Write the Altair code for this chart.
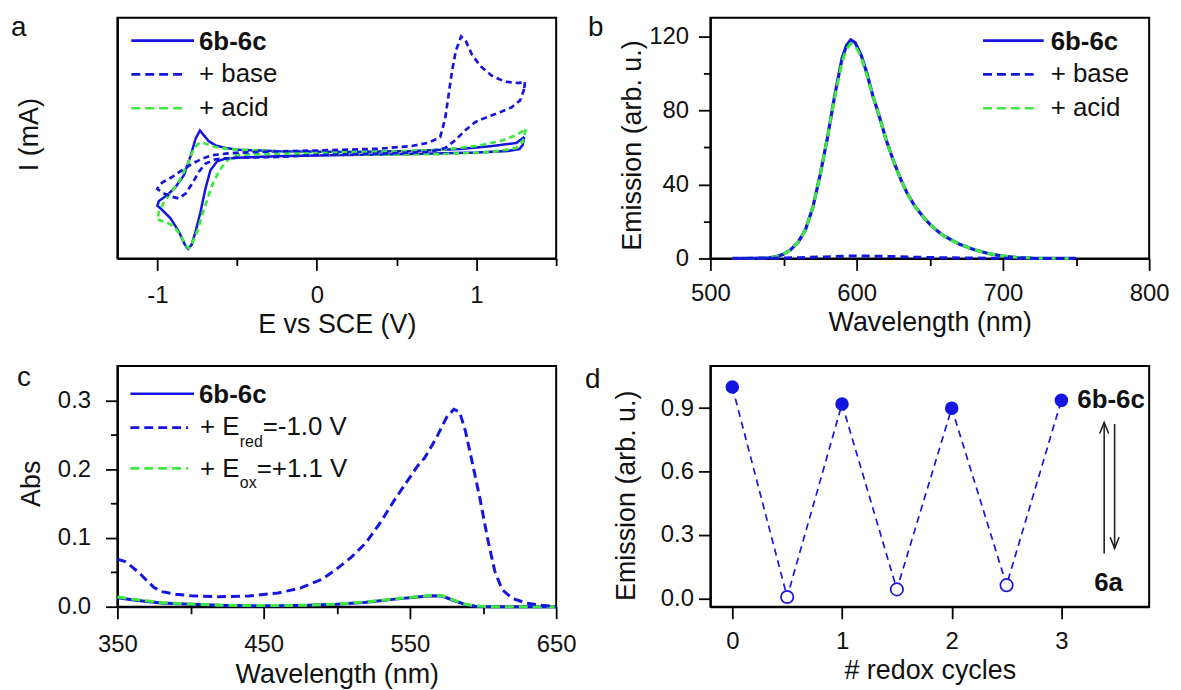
import altair as alt
import pandas as pd

FONT = "Liberation Sans"
BLUE = "#1515e0"
GREEN = "#3fe83f"
INK = "#111111"
W, H = 441, 242

# ---------------- panel a : cyclic voltammograms (E / V, I arbitrary) ----------------
cv_solid_E = [1.30, 1.29, 1.27, 1.20, 1.00, 0.60, 0.20, -0.20, -0.49, -0.573, -0.625, -0.667, -0.698,
              -0.729, -0.760, -0.785, -0.806, -0.827, -0.865, -0.917, -0.969, -1.00, -0.99, -0.9375,
              -0.885, -0.833, -0.79, -0.76, -0.733, -0.708, -0.677, -0.635, -0.573, -0.49, -0.24, 0.20,
              0.60, 0.90, 1.10, 1.25, 1.30]
cv_solid_I = [0.17, 0.09, 0.05, 0.03, 0.015, 0.0, -0.01, -0.02, -0.037, -0.047, -0.073, -0.163, -0.347,
              -0.58, -0.78, -0.913, -0.953, -0.913, -0.78, -0.647, -0.563, -0.52, -0.473, -0.413,
              -0.33, -0.213, -0.013, 0.153, 0.237, 0.187, 0.127, 0.087, 0.06, 0.043, 0.027, 0.02,
              0.03, 0.05, 0.08, 0.11, 0.17]

cv_acid_E = [1.31, 1.29, 1.25, 1.10, 0.80, 0.40, 0.0, -0.24, -0.49, -0.531, -0.573, -0.615, -0.656,
             -0.6875, -0.719, -0.75, -0.781, -0.802, -0.823, -0.854, -0.896, -0.9375, -0.99, -1.0,
             -0.99, -0.96, -0.927, -0.865, -0.8125, -0.771, -0.733, -0.698, -0.635, -0.552, -0.24,
             0.2, 0.5, 0.8, 1.0, 1.15, 1.25, 1.31]
cv_acid_I = [0.25, 0.12, 0.06, 0.02, 0.0, -0.005, 0.0, 0.003, -0.007, -0.03, -0.08, -0.18, -0.313,
             -0.463, -0.613, -0.78, -0.897, -0.947, -0.913, -0.813, -0.73, -0.69, -0.663, -0.663,
             -0.58, -0.49, -0.413, -0.28, -0.113, 0.053, 0.12, 0.103, 0.07, 0.047, 0.027,
             0.02, 0.025, 0.045, 0.08, 0.13, 0.19, 0.25]

cv_base_E = [1.30, 1.273, 1.221, 1.1375, 1.054, 0.992, 0.929, 0.867, 0.804, 0.70, 0.3875, 0.0, -0.24,
             -0.51, -0.635, -0.698, -0.74, -0.781, -0.823, -0.865, -0.906, -0.958, -1.0,
             -0.99, -0.969, -0.906, -0.844, -0.781, -0.719, -0.656, -0.573, -0.49, -0.24, 0.0, 0.3875,
             0.596, 0.70, 0.773, 0.804, 0.825, 0.846, 0.871, 0.904, 0.933, 0.971, 1.023, 1.096,
             1.179, 1.2625, 1.304, 1.30]
cv_base_I = [0.653, 0.537, 0.47, 0.413, 0.363, 0.32, 0.237, 0.137, 0.06, 0.02, 0.003, -0.01, -0.03,
             -0.037, -0.053, -0.097, -0.18, -0.297, -0.397, -0.447, -0.43, -0.397, -0.353,
             -0.32, -0.287, -0.23, -0.163, -0.097, -0.047, -0.013, 0.003, 0.013, 0.027, 0.035, 0.053,
             0.08, 0.113, 0.17, 0.353, 0.587, 0.82, 1.037, 1.18, 1.137, 1.003, 0.887, 0.787,
             0.727, 0.713, 0.727, 0.653]

# ---------------- panel b : emission spectra ----------------
em_wl = [515, 530, 540, 545, 550, 555, 560, 565, 570, 575, 580, 585, 590, 593, 596, 599, 603, 607,
         611, 615, 620, 625, 630, 635, 640, 645, 650, 655, 660, 670, 680, 690, 700, 710, 720, 735, 750]
em_solid = [0, 0.1, 0.4, 1.0, 2.2, 4.8, 8.8, 15.5, 27.5, 45, 65, 88, 108, 115, 118, 116.5, 110, 100,
            88, 78, 64.5, 53, 43, 34.5, 28, 23, 18.5, 15, 12, 7.8, 4.8, 2.7, 1.3, 0.5, 0.2, 0.05, 0]
em_acid = [0, 0.1, 0.4, 1.0, 2.2, 4.8, 8.8, 15.5, 27.5, 45, 65, 87, 106, 113, 116, 115, 109, 99,
           88, 78, 64.5, 53, 43, 34.5, 28, 23, 18.5, 15, 12, 7.8, 4.8, 2.7, 1.3, 0.5, 0.2, 0.05, 0]
em_base_wl = [515, 540, 560, 575, 590, 600, 610, 625, 640, 660, 690, 720, 750]
em_base = [0, 0.1, 0.4, 0.8, 1.2, 1.4, 1.3, 1.0, 0.7, 0.4, 0.15, 0.05, 0]

# ---------------- panel c : absorption spectra ----------------
ab_wl = [350, 360, 370, 380, 400, 420, 440, 460, 480, 500, 520, 540, 555, 565, 572, 580, 588, 595, 605, 650]
ab_solid = [0.013, 0.010, 0.0075, 0.0055, 0.0035, 0.002, 0.0015, 0.0015, 0.002, 0.0035, 0.0065, 0.011,
            0.014, 0.016, 0.0155, 0.009, 0.003, 0.0008, 0, 0]
ab_ox = [0.014, 0.011, 0.0085, 0.006, 0.0038, 0.0022, 0.0016, 0.0016, 0.0022, 0.0038, 0.007, 0.0115,
         0.0145, 0.0165, 0.016, 0.0095, 0.0035, 0.001, 0, 0]
ab_red_wl = [350, 355, 360, 365, 370, 375, 380, 390, 400, 420, 440, 460, 475, 490, 500, 510, 520, 530,
             540, 550, 555, 560, 568, 575, 580, 584, 588, 593, 598, 603, 608, 613, 620, 630, 640, 650]
ab_red = [0.069, 0.066, 0.058, 0.049, 0.038, 0.028, 0.022, 0.018, 0.016, 0.0145, 0.0155, 0.020, 0.027,
          0.040, 0.055, 0.072, 0.093, 0.123, 0.157, 0.188, 0.204, 0.216, 0.245, 0.275, 0.287, 0.283,
          0.255, 0.206, 0.156, 0.100, 0.052, 0.025, 0.012, 0.005, 0.002, 0]

# ---------------- panel d : redox switching ----------------
cycles = [0, 0.5, 1, 1.5, 2, 2.5, 3]
emission = [1.0, 0.006, 0.92, 0.042, 0.90, 0.062, 0.937]
states = ["6b-6c", "6a", "6b-6c", "6a", "6b-6c", "6a", "6b-6c"]


def df(xs, ys):
    return pd.DataFrame({"x": xs, "y": ys, "i": list(range(len(xs)))})


def tick_size(major_test):
    return {"condition": {"test": "!(" + major_test + ")", "value": 7}, "value": 12}


def xaxis(title, values, major, expr, pad, title_y):
    return alt.Axis(title=title, values=values, labelExpr=expr, tickSize=tick_size(major),
                    labelPadding=pad, labelFlush=False, labelOverlap=False,
                    titleX=W / 2, titleY=title_y, titleBaseline="alphabetic", titleAlign="center")


def yaxis(title, values, major, expr, pad, title_x, title_y):
    return alt.Axis(title=title, values=values, labelExpr=expr, tickSize=tick_size(major),
                    labelPadding=pad, labelOverlap=False, titleX=title_x, titleY=title_y,
                    titleBaseline="alphabetic", titleAlign="center", titleAngle=270)


def one(text):
    return pd.DataFrame({"t": [text]})


def txt(text, x, y, size=26, weight="normal", align="left"):
    return alt.Chart(one(text)).mark_text(align=align, baseline="alphabetic", font=FONT, fontSize=size,
                                          fontWeight=weight, color=INK).encode(
        x=alt.value(x), y=alt.value(y), text="t:N")


def seg(x1, x2, y, color, dash=None, width=2.7):
    kw = dict(color=color, strokeWidth=width)
    if dash:
        kw["strokeDash"] = dash
    return alt.Chart(one("")).mark_rule(**kw).encode(x=alt.value(x1), x2=alt.value(x2), y=alt.value(y))


# ---------------- build panel a ----------------
Xa = alt.X("x:Q", scale=alt.Scale(domain=[-1.25, 1.5], nice=False, zero=False),
           axis=xaxis("E vs SCE (V)", [-1, -0.5, 0, 0.5, 1, 1.5], "datum.value % 1 == 0",
                      "datum.value % 1 == 0 ? (datum.value < 0 ? '-' + format(-datum.value, 'd') : format(datum.value, 'd')) : ''",
                      13, 74))
Ya = alt.Y("y:Q", scale=alt.Scale(domain=[-1.05, 1.37], nice=False, zero=False),
           axis=alt.Axis(title="I (mA)", labels=False, ticks=False, titleX=-80, titleY=117,
                         titleBaseline="alphabetic", titleAlign="center", titleAngle=270))

pa = alt.layer(
    alt.Chart(df(cv_solid_E, cv_solid_I)).mark_line(color=BLUE, strokeWidth=2.5).encode(x=Xa, y=Ya, order="i:Q"),
    alt.Chart(df(cv_acid_E, cv_acid_I)).mark_line(color=GREEN, strokeWidth=2.7, strokeDash=[6, 4]).encode(x=Xa, y=Ya, order="i:Q"),
    alt.Chart(df(cv_base_E, cv_base_I)).mark_line(color=BLUE, strokeWidth=2.7, strokeDash=[6, 4]).encode(x=Xa, y=Ya, order="i:Q"),
    seg(14, 77, 23, BLUE),
    seg(14, 70, 57, BLUE, [9, 5]),
    seg(14, 70, 91, GREEN, [9, 5]),
    txt("6b-6c", 82, 32, weight="bold"),
    txt("+ base", 82, 65),
    txt("+ acid", 82, 99),
    txt("a", -107, 18, size=28),
).properties(width=W, height=H)

# ---------------- build panel b ----------------
Xb = alt.X("x:Q", scale=alt.Scale(domain=[500, 800], nice=False, zero=False),
           axis=xaxis("Wavelength (nm)", [500, 550, 600, 650, 700, 750, 800], "datum.value % 100 == 0",
                      "datum.value % 100 == 0 ? format(datum.value, 'd') : ''", 11, 72))
Yb = alt.Y("y:Q", scale=alt.Scale(domain=[0, 130], nice=False, zero=False),
           axis=yaxis("Emission (arb. u.)", [0, 20, 40, 60, 80, 100, 120], "datum.value % 40 == 0",
                      "datum.value % 40 == 0 ? format(datum.value, 'd') : ''", 10, -70, 128))

pb = alt.layer(
    alt.Chart(df(em_wl, em_solid)).mark_line(color=BLUE, strokeWidth=3.2).encode(x=Xb, y=Yb, order="i:Q"),
    alt.Chart(df(em_wl, em_acid)).mark_line(color=GREEN, strokeWidth=3.0, strokeDash=[8, 5]).encode(x=Xb, y=Yb, order="i:Q"),
    alt.Chart(df(em_base_wl, em_base)).mark_line(color=BLUE, strokeWidth=3.0, strokeDash=[8, 5]).encode(x=Xb, y=Yb, order="i:Q"),
    seg(274, 335, 23, BLUE),
    seg(274, 328, 57, BLUE, [9, 5]),
    seg(274, 328, 91, GREEN, [9, 5]),
    txt("6b-6c", 342, 32, weight="bold"),
    txt("+ base", 342, 65),
    txt("+ acid", 342, 99),
    txt("b", -123, 18, size=28),
).properties(width=W, height=H)

# ---------------- build panel c ----------------
Xc = alt.X("x:Q", scale=alt.Scale(domain=[350, 650], nice=False, zero=False),
           axis=xaxis("Wavelength (nm)", [350, 400, 450, 500, 550, 600, 650], "(datum.value - 350) % 100 == 0",
                      "(datum.value - 350) % 100 == 0 ? format(datum.value, 'd') : ''", 14, 76))
Yc = alt.Y("y:Q", scale=alt.Scale(domain=[0, 0.35], nice=False, zero=False),
           axis=yaxis("Abs", [0, 0.05, 0.1, 0.15, 0.2, 0.25, 0.3], "round(datum.value * 100) % 10 == 0",
                      "round(datum.value * 100) % 10 == 0 ? format(datum.value, '.1f') : ''", 15, -78, 118))

pc = alt.layer(
    alt.Chart(df(ab_wl, ab_solid)).mark_line(color=BLUE, strokeWidth=3.0).encode(x=Xc, y=Yc, order="i:Q"),
    alt.Chart(df(ab_wl, ab_ox)).mark_line(color=GREEN, strokeWidth=3.0, strokeDash=[9, 5]).encode(x=Xc, y=Yc, order="i:Q"),
    alt.Chart(df(ab_red_wl, ab_red)).mark_line(color=BLUE, strokeWidth=3.0, strokeDash=[9, 5]).encode(x=Xc, y=Yc, order="i:Q"),
    seg(13, 77, 28, BLUE),
    seg(13, 71, 62, BLUE, [9, 5]),
    seg(13, 71, 103, GREEN, [9, 5]),
    txt("6b-6c", 82, 37, weight="bold"),
    txt("+ E", 83, 69),
    txt("red", 123, 81, size=16),
    txt("=-1.0 V", 146, 69),
    txt("+ E", 83, 112),
    txt("ox", 123, 123, size=16),
    txt("=+1.1 V", 140, 112),
    txt("c", -101, 20, size=28),
).properties(width=W, height=H)

# ---------------- build panel d ----------------
Xd = alt.X("x:Q", scale=alt.Scale(domain=[-0.2, 3.8], nice=False, zero=False),
           axis=xaxis("# redox cycles", [0, 1, 2, 3], "true", "format(datum.value, 'd')", 11, 72))
Yd = alt.Y("y:Q", scale=alt.Scale(domain=[-0.04, 1.1], nice=False, zero=False),
           axis=yaxis("Emission (arb. u.)", [0, 0.15, 0.3, 0.45, 0.6, 0.75, 0.9, 1.05],
                      "round(datum.value * 100) % 30 == 0",
                      "round(datum.value * 100) % 30 == 0 ? format(datum.value, '.1f') : ''", 5, -76, 130))

df_d = pd.DataFrame({"x": cycles, "y": emission, "state": states, "i": list(range(len(cycles)))})
arrow_x = [3.39, 3.485]
arrow_from = [0.212, 0.825]
arrow_to = [0.833, 0.236]
df_arrows = pd.DataFrame({"x": arrow_x, "y": arrow_from, "y2": arrow_to})

pd_ = alt.layer(
    alt.Chart(df_d).mark_line(color=BLUE, strokeWidth=1.7, strokeDash=[7, 5]).encode(x=Xd, y=Yd, order="i:Q"),
    alt.Chart(df_d).transform_filter("datum.state == '6b-6c'").mark_circle(color=BLUE, size=185, opacity=1).encode(x=Xd, y=Yd),
    alt.Chart(df_d).transform_filter("datum.state == '6a'").mark_point(
        shape="circle", filled=True, fill="white", stroke=BLUE, strokeWidth=1.7, size=155, opacity=1).encode(x=Xd, y=Yd),
    alt.Chart(df_arrows).mark_rule(color="#222222", strokeWidth=1.6).encode(x=Xd, y=Yd, y2="y2:Q"),
    alt.Chart(df_arrows.iloc[[0]]).mark_point(shape="M -0.4 1 L 0 0 L 0.4 1", filled=False, color="#222222",
                                               strokeWidth=1.6, size=500, opacity=1).encode(x=Xd, y=alt.Y("y2:Q")),
    alt.Chart(df_arrows.iloc[[1]]).mark_point(shape="M -0.4 -1 L 0 0 L 0.4 -1", filled=False, color="#222222",
                                               strokeWidth=1.6, size=500, opacity=1).encode(x=Xd, y=alt.Y("y2:Q")),
    alt.Chart(pd.DataFrame({"x": [3], "y": [0.937], "t": ["6b-6c"]})).mark_text(
        align="left", baseline="middle", dx=16, font=FONT, fontSize=26, fontWeight="bold", color=INK).encode(
        x=Xd, y=Yd, text="t:N"),
    alt.Chart(pd.DataFrame({"x": [3.43], "y": [0.073], "t": ["6a"]})).mark_text(
        align="center", baseline="middle", font=FONT, fontSize=26, fontWeight="bold", color=INK).encode(
        x=Xd, y=Yd, text="t:N"),
    txt("d", -126, 22, size=28),
).properties(width=W, height=H)

chart = alt.concat(pa, pb, pc, pd_, columns=2, spacing={"row": 108, "column": 155}, bounds="flush").properties(
    padding={"left": 10, "top": 11, "right": 10, "bottom": 10}, background="white"
).configure_view(stroke="black", strokeWidth=2).configure_axis(
    labelFont=FONT, titleFont=FONT, labelFontSize=24, titleFontSize=27, titleFontWeight="normal",
    labelColor=INK, titleColor=INK, domainColor="black", tickColor="black", domainWidth=2, tickWidth=1.8,
    grid=False
)

chart.save("out.html", embed_options={"renderer": "svg", "actions": False})
